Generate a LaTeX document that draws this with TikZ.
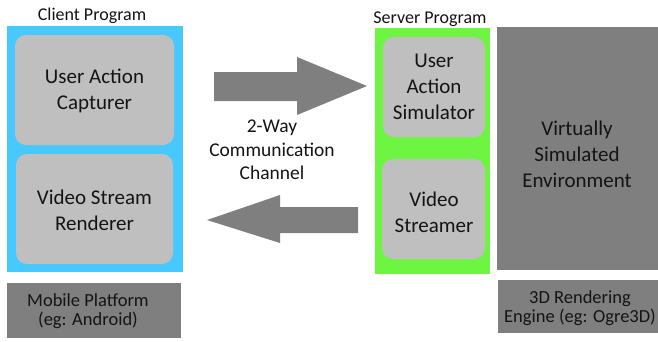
\documentclass[tikz,border=0pt]{standalone}
\usepackage{fontspec}
\setmainfont{Carlito}
\definecolor{clientblue}{HTML}{47C8FF}
\definecolor{servergreen}{HTML}{6EF542}
\definecolor{modgray}{HTML}{BFBFBF}
\definecolor{darkgray}{HTML}{7F7F7F}
\definecolor{txt}{HTML}{141414}
\begin{document}
\begin{tikzpicture}[x=1pt,y=-1pt,
  panel/.style={fill=#1, draw=none},
  module/.style={fill=modgray, draw=none, rounded corners=11pt},
  label/.style={text=txt, align=center, font=\fontsize{21}{26}\selectfont},
  caption/.style={text=txt, font=\fontsize{18}{20}\selectfont},
  base/.style={text=txt, align=center, font=\fontsize{18.5}{19}\selectfont},
  bigarrow/.style={fill=darkgray, draw=none}]
\useasboundingbox (0,0) rectangle (658,341);

% client side
\fill[panel=clientblue] (7,26) rectangle (183,272);
\fill[module] (15,35) rectangle (174,145);
\fill[module] (16,154) rectangle (173,264);
\node[label] (uac) at (94.5,91) {User Action\\Capturer};
\node[label] (vsr) at (94.5,210) {Video Stream\\Renderer};
\node[caption] (client) at (92,16) {Client Program};
\fill[panel=darkgray] (7,283) rectangle (181,338);
\node[base] (mobile) at (88,311) {Mobile Platform\\(eg: Android)};

% server side
\fill[panel=servergreen] (375,28) rectangle (490,274);
\fill[module] (383,37) rectangle (485,137);
\fill[module] (382,159) rectangle (485,259);
\node[label] (uas) at (434,87) {User\\Action\\Simulator};
\node[label] (vs) at (434,212) {Video\\Streamer};
\node[caption] (server) at (430,19) {Server Program};
\fill[panel=darkgray] (497,27) rectangle (658,270);
\node[label] (env) at (577,154) {Virtually\\Simulated\\Environment};
\fill[panel=darkgray] (498,280) rectangle (658,333);
\node[base] (engine) at (580,308) {3D Rendering\\Engine (eg: Ogre3D)};

% communication channel arrows
\fill[bigarrow] (214,72) -- (297,72) -- (297,57) -- (367,86) -- (297,115) -- (297,101) -- (214,101) -- cycle;
\fill[bigarrow] (358,207) -- (280,207) -- (280,195) -- (207,220) -- (280,243) -- (280,233) -- (358,233) -- cycle;
\node[base, font=\fontsize{19.5}{23.5}\selectfont] (chan) at (272,150) {2-Way\\Communication\\Channel};
\end{tikzpicture}
\end{document}
